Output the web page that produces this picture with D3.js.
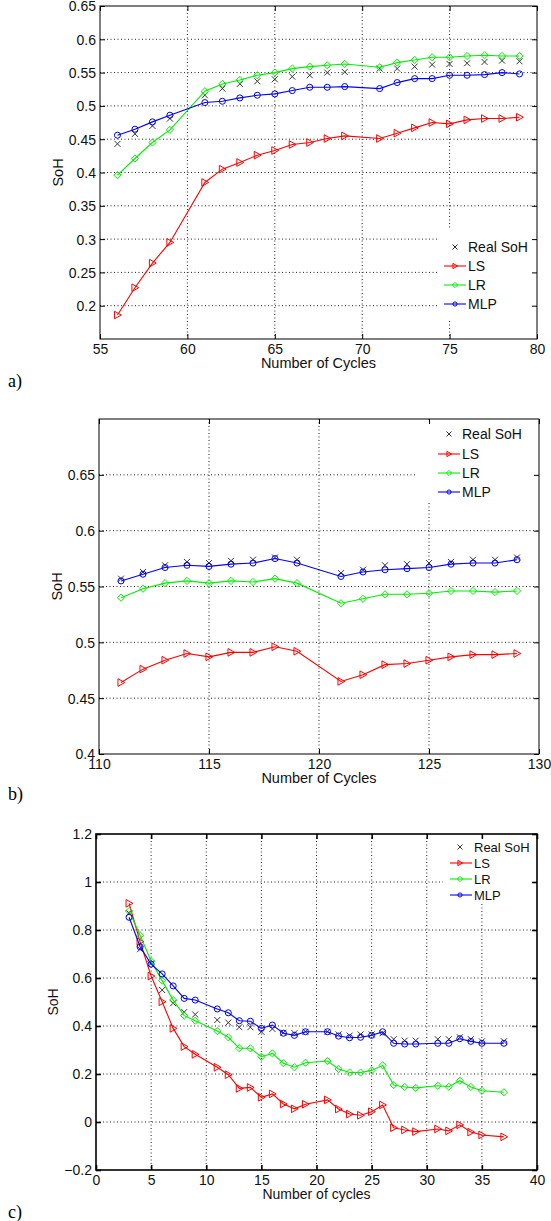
<!DOCTYPE html>
<html>
<head>
<meta charset="utf-8">
<script src="https://cdn.jsdelivr.net/npm/d3@7"></script>
<style>
  body { margin: 0; background: #fff; }
</style>
</head>
<body>
<div id="chart"></div>
<script>
const FONT = "'Liberation Sans', Arial, sans-serif";
const SERIF = "'Liberation Serif', 'Times New Roman', serif";
const COLOR_LS = "#ff0000";
const COLOR_LR = "#00ee00";
const COLOR_MLP = "#0000ff";
const COLOR_REAL = "#333333";

// ---- panel a data ----
const cyclesA = [56, 57, 58, 59, 61, 62, 63, 64, 65, 66, 67, 68, 69, 71, 72, 73, 74, 75, 76, 77, 78, 79];
const realA = [0.443, 0.458, 0.470, 0.481, 0.516, 0.526, 0.533, 0.537, 0.540, 0.544, 0.546, 0.550, 0.551, 0.556, 0.556, 0.559, 0.562, 0.563, 0.564, 0.566, 0.568, 0.567];
const lsA = [0.186, 0.227, 0.264, 0.295, 0.385, 0.405, 0.415, 0.426, 0.433, 0.442, 0.445, 0.451, 0.455, 0.451, 0.459, 0.467, 0.475, 0.473, 0.479, 0.481, 0.481, 0.483];
const lrA = [0.396, 0.421, 0.445, 0.464, 0.522, 0.533, 0.539, 0.546, 0.550, 0.556, 0.559, 0.561, 0.563, 0.558, 0.565, 0.569, 0.573, 0.573, 0.575, 0.576, 0.575, 0.575];
const mlpA = [0.456, 0.465, 0.476, 0.486, 0.505, 0.507, 0.512, 0.516, 0.518, 0.523, 0.528, 0.528, 0.529, 0.526, 0.535, 0.541, 0.541, 0.546, 0.546, 0.547, 0.550, 0.548];
const xTicksA = [55, 60, 65, 70, 75, 80];
const yTicksA = [0.2, 0.25, 0.3, 0.35, 0.4, 0.45, 0.5, 0.55, 0.6, 0.65];

// ---- panel b data ----
const cyclesB = [111, 112, 113, 114, 115, 116, 117, 118, 119, 121, 122, 123, 124, 125, 126, 127, 128, 129];
const realB = [0.557, 0.563, 0.569, 0.572, 0.571, 0.573, 0.574, 0.576, 0.574, 0.562, 0.565, 0.569, 0.570, 0.571, 0.572, 0.574, 0.574, 0.576];
const lsB = [0.464, 0.476, 0.484, 0.490, 0.487, 0.491, 0.491, 0.496, 0.492, 0.465, 0.471, 0.480, 0.481, 0.484, 0.487, 0.489, 0.489, 0.490];
const lrB = [0.540, 0.548, 0.553, 0.555, 0.553, 0.555, 0.554, 0.557, 0.553, 0.535, 0.539, 0.543, 0.543, 0.544, 0.546, 0.546, 0.545, 0.546];
const mlpB = [0.555, 0.561, 0.567, 0.569, 0.568, 0.570, 0.571, 0.575, 0.571, 0.559, 0.563, 0.565, 0.566, 0.567, 0.570, 0.571, 0.571, 0.574];
const xTicksB = [110, 115, 120, 125, 130];
const yTicksB = [0.4, 0.45, 0.5, 0.55, 0.6, 0.65];

// ---- panel c data ----
const cyclesC = [3, 4, 5, 6, 7, 8, 9, 11, 12, 13, 14, 15, 16, 17, 18, 19, 21, 22, 23, 24, 25, 26, 27, 28, 29, 31, 32, 33, 34, 35, 37];
const realC = [0.870, 0.720, 0.661, 0.550, 0.495, 0.458, 0.448, 0.425, 0.414, 0.395, 0.395, 0.376, 0.388, 0.372, 0.370, 0.376, 0.376, 0.365, 0.360, 0.365, 0.365, 0.370, 0.345, 0.339, 0.339, 0.345, 0.345, 0.353, 0.345, 0.336, 0.336];
const lsC = [0.911, 0.751, 0.608, 0.501, 0.390, 0.314, 0.282, 0.228, 0.197, 0.140, 0.144, 0.103, 0.117, 0.075, 0.055, 0.074, 0.092, 0.054, 0.033, 0.028, 0.043, 0.071, -0.024, -0.033, -0.040, -0.029, -0.037, -0.012, -0.042, -0.054, -0.062];
const lrC = [0.879, 0.778, 0.670, 0.589, 0.508, 0.443, 0.422, 0.379, 0.353, 0.307, 0.307, 0.272, 0.286, 0.245, 0.228, 0.247, 0.254, 0.221, 0.206, 0.206, 0.215, 0.236, 0.154, 0.146, 0.142, 0.151, 0.147, 0.172, 0.146, 0.130, 0.124];
const mlpC = [0.853, 0.730, 0.658, 0.617, 0.567, 0.515, 0.508, 0.471, 0.455, 0.422, 0.420, 0.390, 0.404, 0.370, 0.361, 0.376, 0.376, 0.358, 0.351, 0.353, 0.361, 0.376, 0.328, 0.325, 0.325, 0.328, 0.328, 0.347, 0.336, 0.328, 0.328];
const xTicksC = [0, 5, 10, 15, 20, 25, 30, 35, 40];
const yTicksC = [-0.2, 0, 0.2, 0.4, 0.6, 0.8, 1, 1.2];

const seriesNames = ["Real SoH", "LS", "LR", "MLP"];

const panels = [
    {
        tag: "a)", tagY: 387, xlabel: "Number of Cycles",
        left: 100, right: 537, top: 6, bottom: 339,
        xDomain: [55, 80], yDomain: [0.15, 0.65], xTicks: xTicksA, yTicks: yTicksA,
        x: cyclesA, real: realA, ls: lsA, lr: lrA, mlp: mlpA,
        fontSize: 14, labelSize: 14.5, ylabelX: 58,
        legend: { box: [437, 230, 537, 320], rows: [247, 266, 285, 304], mark: 455, line: [444, 466], text: 468, size: 14 }
    },
    {
        tag: "b)", tagY: 800, xlabel: "Number of Cycles",
        left: 99, right: 539, top: 419, bottom: 754,
        xDomain: [110, 130], yDomain: [0.4, 0.7], xTicks: xTicksB, yTicks: yTicksB,
        x: cyclesB, real: realB, ls: lsB, lr: lrB, mlp: mlpB,
        fontSize: 14, labelSize: 14.5, ylabelX: 57,
        legend: { box: [417, 420, 539, 502], rows: [434, 454, 473, 492], mark: 449, line: [438, 460], text: 462, size: 14 }
    },
    {
        tag: "c)", tagY: 1218, xlabel: "Number of cycles",
        left: 96, right: 537, top: 834, bottom: 1170,
        xDomain: [0, 40], yDomain: [-0.2, 1.2], xTicks: xTicksC, yTicks: yTicksC,
        x: cyclesC, real: realC, ls: lsC, lr: lrC, mlp: mlpC,
        fontSize: 14, labelSize: 14, ylabelX: 53, thick: true,
        legend: { box: [443, 836, 536, 903], rows: [847, 863, 879, 895], mark: 460, line: [450, 472], text: 474, size: 13 }
    }
];

const svg = d3.select("#chart").append("svg")
    .attr("width", 551)
    .attr("height", 1221)
    .attr("font-family", FONT);

function fmt(d) {
    return String(+d.toFixed(2)).replace("-", "\u2212");
}

function drawMarker(g, type, cx, cy, color, s) {
    if (type === "cross") {
        g.append("path")
            .attr("d", `M${cx - s},${cy - s}L${cx + s},${cy + s}M${cx - s},${cy + s}L${cx + s},${cy - s}`)
            .attr("stroke", color).attr("stroke-width", 1).attr("fill", "none");
    } else if (type === "tri") {
        g.append("path")
            .attr("d", `M${cx + s},${cy}L${cx - s * 0.8},${cy - s}L${cx - s * 0.8},${cy + s}Z`)
            .attr("stroke", color).attr("stroke-width", 1).attr("fill", "none");
    } else if (type === "diamond") {
        g.append("path")
            .attr("d", `M${cx},${cy - s}L${cx + s},${cy}L${cx},${cy + s}L${cx - s},${cy}Z`)
            .attr("stroke", color).attr("stroke-width", 1).attr("fill", "none");
    } else {
        g.append("circle")
            .attr("cx", cx).attr("cy", cy).attr("r", s * 0.8)
            .attr("stroke", color).attr("stroke-width", 1).attr("fill", "none");
    }
}

function drawPanel(p) {
    const x = d3.scaleLinear().domain(p.xDomain).range([p.left, p.right]);
    const y = d3.scaleLinear().domain(p.yDomain).range([p.bottom, p.top]);
    const g = svg.append("g");
    const frameW = p.thick ? 1.6 : 1;

    // dotted grid
    const grid = g.append("g").attr("class", "grid");
    grid.selectAll("line.gx")
        .data(p.xTicks.filter(d => d > p.xDomain[0] && d < p.xDomain[1]))
        .enter().append("line")
        .attr("x1", d => x(d)).attr("x2", d => x(d))
        .attr("y1", p.top).attr("y2", p.bottom)
        .attr("stroke", "#222").attr("stroke-width", 1)
        .attr("stroke-dasharray", "1,2.5");
    grid.selectAll("line.gy")
        .data(p.yTicks.filter(d => d > p.yDomain[0] && d < p.yDomain[1]))
        .enter().append("line")
        .attr("x1", p.left).attr("x2", p.right)
        .attr("y1", d => y(d)).attr("y2", d => y(d))
        .attr("stroke", "#222").attr("stroke-width", 1)
        .attr("stroke-dasharray", "1,2.5");

    // legend background hides the grid under it
    const lb = p.legend.box;
    g.append("rect")
        .attr("x", lb[0]).attr("y", lb[1])
        .attr("width", lb[2] - lb[0]).attr("height", lb[3] - lb[1])
        .attr("fill", "#fff");

    // axes: ticks inward on all four sides
    const axL = d3.axisLeft(y).tickValues(p.yTicks).tickSize(-5).tickFormat(fmt).tickSizeOuter(0);
    const axR = d3.axisRight(y).tickValues(p.yTicks).tickSize(-5).tickFormat("").tickSizeOuter(0);
    const axB = d3.axisBottom(x).tickValues(p.xTicks).tickSize(-5).tickFormat(d3.format("d")).tickSizeOuter(0);
    const axT = d3.axisTop(x).tickValues(p.xTicks).tickSize(-5).tickFormat("").tickSizeOuter(0);

    const styleAxis = sel => {
        sel.select(".domain").remove();
        sel.selectAll(".tick line").attr("stroke", "#000").attr("stroke-width", frameW);
        sel.selectAll("text").attr("fill", "#111").attr("font-size", p.fontSize + "px").attr("font-family", FONT);
    };
    g.append("g").attr("transform", `translate(${p.left},0)`).call(axL).call(styleAxis)
        .call(s => s.selectAll("text").attr("x", -4).attr("dy", "0.35em"));
    g.append("g").attr("transform", `translate(${p.right},0)`).call(axR).call(styleAxis);
    g.append("g").attr("transform", `translate(0,${p.bottom})`).call(axB).call(styleAxis)
        .call(s => s.selectAll("text").attr("y", 5).attr("dy", "0.71em"));
    g.append("g").attr("transform", `translate(0,${p.top})`).call(axT).call(styleAxis);

    // frame
    g.append("rect")
        .attr("x", p.left).attr("y", p.top)
        .attr("width", p.right - p.left).attr("height", p.bottom - p.top)
        .attr("fill", "none").attr("stroke", "#000").attr("stroke-width", frameW);

    // series
    const series = [
        { vals: p.ls, color: COLOR_LS, marker: "tri", size: 3.8 },
        { vals: p.lr, color: COLOR_LR, marker: "diamond", size: 3.6 },
        { vals: p.mlp, color: COLOR_MLP, marker: "circle", size: 3.8 }
    ];
    const realG = g.append("g");
    p.real.forEach((v, i) => drawMarker(realG, "cross", x(p.x[i]), y(v), COLOR_REAL, 3));

    series.forEach(s => {
        const pts = s.vals.map((v, i) => [p.x[i], v]);
        const line = d3.line().x(d => x(d[0])).y(d => y(d[1]));
        g.append("path").datum(pts)
            .attr("d", line)
            .attr("fill", "none")
            .attr("stroke", s.color)
            .attr("stroke-width", 1.1);
        const mg = g.append("g");
        pts.forEach(d => drawMarker(mg, s.marker, x(d[0]), y(d[1]), s.color, s.size));
    });

    // legend
    const lg = g.append("g").attr("font-size", p.legend.size + "px");
    const legendItems = [
        { name: seriesNames[0], color: COLOR_REAL, marker: "cross" },
        { name: seriesNames[1], color: COLOR_LS, marker: "tri" },
        { name: seriesNames[2], color: COLOR_LR, marker: "diamond" },
        { name: seriesNames[3], color: COLOR_MLP, marker: "circle" }
    ];
    legendItems.forEach((it, i) => {
        const ry = p.legend.rows[i];
        if (it.marker === "cross") {
            drawMarker(lg, "cross", p.legend.mark, ry, it.color, 2.5);
        } else {
            lg.append("line")
                .attr("x1", p.legend.line[0]).attr("x2", p.legend.line[1])
                .attr("y1", ry).attr("y2", ry)
                .attr("stroke", it.color).attr("stroke-width", 1.1);
            drawMarker(lg, it.marker, p.legend.mark, ry, it.color, 2.6);
        }
        lg.append("text")
            .attr("x", p.legend.text).attr("y", ry)
            .attr("dy", "0.36em")
            .attr("fill", "#111")
            .text(it.name);
    });

    // axis titles
    g.append("text")
        .attr("x", (p.left + p.right) / 2)
        .attr("y", p.bottom + 29)
        .attr("text-anchor", "middle")
        .attr("font-size", p.labelSize + "px")
        .attr("fill", "#111")
        .text(p.xlabel);
    g.append("text")
        .attr("transform", `translate(${p.ylabelX},${(p.top + p.bottom) / 2}) rotate(-90)`)
        .attr("text-anchor", "middle")
        .attr("dy", "0.35em")
        .attr("font-size", p.labelSize + "px")
        .attr("fill", "#111")
        .text("SoH");

    // panel tag
    svg.append("text")
        .attr("x", 8).attr("y", p.tagY)
        .attr("font-family", SERIF)
        .attr("font-size", "18px")
        .attr("fill", "#000")
        .text(p.tag);
}

panels.forEach(drawPanel);
</script>
</body>
</html>
